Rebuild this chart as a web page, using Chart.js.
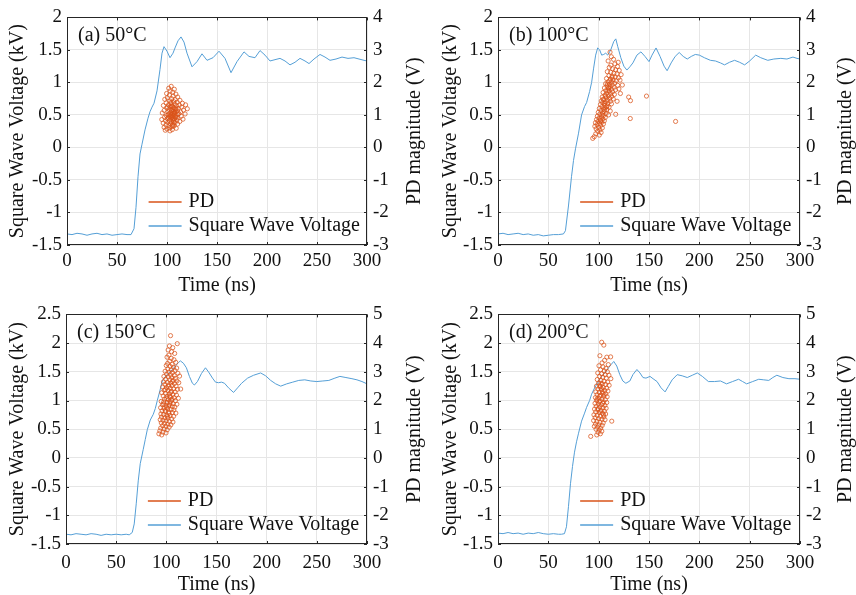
<!DOCTYPE html>
<html>
<head>
<meta charset="utf-8">
<script src="https://cdn.jsdelivr.net/npm/chart.js@4.4.1/dist/chart.umd.min.js"></script>
<style>
  body { margin: 0; background: #fff; }
  #wrap { position: relative; width: 856px; height: 595px; }
  canvas { position: absolute; }
</style>
</head>
<body>
<div id="wrap">
  <canvas id="chartA" width="428" height="297" style="left:0;top:0;width:428px;height:297px"></canvas>
  <canvas id="chartB" width="428" height="297" style="left:428px;top:0;width:428px;height:297px"></canvas>
  <canvas id="chartC" width="428" height="298" style="left:0;top:297px;width:428px;height:298px"></canvas>
  <canvas id="chartD" width="428" height="298" style="left:428px;top:297px;width:428px;height:298px"></canvas>
</div>
<script>
// ---- square wave voltage (kV) vs time (ns) ----
const tA = [0,5,10,15,20,25,30,35,40,45,50,55,60,64,67,69,71,73,75,78,81,83,85,87,90,93,95,97,100,103,106,108,111,114,117,120,125,130,135,140,146,152,158,164,170,177,182,188,193,198,203,208,213,218,223,228,233,238,242,247,253,258,263,269,275,281,287,292,297,300];
const vA = [-1.33,-1.34,-1.32,-1.33,-1.35,-1.33,-1.32,-1.34,-1.33,-1.35,-1.34,-1.33,-1.34,-1.34,-1.25,-0.92,-0.45,-0.10,0.05,0.27,0.45,0.55,0.62,0.68,0.87,1.20,1.45,1.55,1.48,1.38,1.45,1.53,1.64,1.70,1.62,1.45,1.24,1.32,1.44,1.34,1.38,1.48,1.37,1.15,1.32,1.47,1.40,1.38,1.49,1.42,1.33,1.35,1.37,1.33,1.27,1.31,1.37,1.33,1.29,1.36,1.43,1.39,1.34,1.36,1.39,1.37,1.38,1.36,1.34,1.33];

const tB = [0,5,10,15,20,25,30,35,40,45,50,55,60,65,67,70,73,75,77,80,83,86,88,91,93,95,97,99,101,103,105,107,109,112,115,117,119,122,125,128,131,134,138,142,146,150,153,157,161,165,168,172,176,180,184,188,192,196,200,205,211,216,221,225,230,235,240,245,250,256,261,268,274,281,287,293,297,300];
const vB = [-1.33,-1.32,-1.34,-1.33,-1.32,-1.34,-1.33,-1.35,-1.34,-1.36,-1.35,-1.34,-1.34,-1.33,-1.28,-0.90,-0.45,-0.20,-0.02,0.22,0.50,0.63,0.69,0.86,1.00,1.22,1.42,1.53,1.50,1.42,1.43,1.45,1.42,1.50,1.63,1.67,1.55,1.38,1.25,1.19,1.24,1.30,1.42,1.47,1.40,1.32,1.42,1.53,1.40,1.25,1.18,1.30,1.40,1.46,1.40,1.36,1.40,1.43,1.42,1.38,1.34,1.33,1.30,1.27,1.31,1.34,1.31,1.27,1.33,1.42,1.38,1.34,1.36,1.37,1.36,1.39,1.37,1.36];

const tC = [0,5,10,15,20,25,30,35,40,45,50,55,60,63,66,68,70,72,74,77,79,81,84,87,89,91,93,96,98,101,104,106,109,112,114,117,120,123,126,128,131,135,139,142,146,149,152,155,158,162,167,171,175,181,187,194,199,204,209,214,220,226,232,238,244,250,256,262,268,273,279,285,290,295,300];
const vC = [-1.33,-1.34,-1.32,-1.33,-1.34,-1.32,-1.33,-1.35,-1.33,-1.34,-1.33,-1.34,-1.33,-1.34,-1.30,-1.15,-0.80,-0.40,-0.10,0.15,0.32,0.49,0.66,0.76,0.86,1.00,1.13,1.34,1.40,1.45,1.50,1.54,1.60,1.66,1.69,1.65,1.57,1.42,1.30,1.27,1.33,1.47,1.57,1.50,1.39,1.32,1.31,1.32,1.30,1.22,1.14,1.22,1.30,1.39,1.44,1.48,1.43,1.35,1.29,1.25,1.29,1.32,1.35,1.36,1.34,1.33,1.34,1.35,1.39,1.42,1.40,1.38,1.36,1.33,1.29];

const tD = [0,5,10,15,20,25,30,35,40,45,50,55,60,63,66,68,70,72,74,76,78,80,83,86,88,91,93,96,100,103,106,109,112,115,118,121,124,127,131,134,138,141,144,147,151,154,158,162,166,169,173,178,183,188,193,198,203,209,215,221,227,233,239,243,247,253,259,264,269,273,277,283,289,295,300];
const vD = [-1.31,-1.32,-1.30,-1.32,-1.31,-1.33,-1.31,-1.32,-1.30,-1.32,-1.33,-1.32,-1.33,-1.33,-1.32,-1.20,-0.85,-0.45,-0.15,0.10,0.28,0.43,0.64,0.78,0.88,1.00,1.11,1.22,1.34,1.42,1.48,1.55,1.62,1.68,1.60,1.45,1.34,1.30,1.34,1.45,1.54,1.48,1.40,1.39,1.42,1.38,1.33,1.22,1.15,1.24,1.36,1.45,1.43,1.40,1.44,1.48,1.42,1.33,1.33,1.34,1.29,1.33,1.37,1.33,1.29,1.33,1.37,1.36,1.35,1.40,1.44,1.40,1.38,1.38,1.37];

// ---- PD events, [time ns, magnitude V] ----
const pdA = [
  [104.2,1.88],[101.7,1.82],[107.3,1.79],[103.1,1.74],[105.8,1.70],[99.6,1.66],[108.9,1.64],[102.4,1.61],[106.1,1.58],[110.7,1.55],[100.3,1.53],[104.6,1.50],[97.8,1.48],[108.2,1.47],[112.9,1.45],[102.9,1.43],[106.7,1.41],[110.1,1.39],[99.1,1.37],[115.4,1.36],
  [104.0,1.35],[107.9,1.33],[101.5,1.31],[112.3,1.30],[118.6,1.31],[96.4,1.29],[109.6,1.28],[105.2,1.27],[103.3,1.25],[114.7,1.24],[107.1,1.23],[99.8,1.21],[111.2,1.20],[120.3,1.19],[105.9,1.18],[102.1,1.17],[108.6,1.16],[116.5,1.15],[97.2,1.14],[104.8,1.13],
  [110.4,1.12],[106.3,1.11],[100.9,1.10],[113.6,1.09],[108.0,1.08],[103.7,1.07],[95.3,1.06],[105.5,1.05],[111.8,1.04],[118.1,1.03],[107.4,1.02],[101.2,1.01],[104.3,1.00],[109.3,0.99],[99.4,0.98],[106.8,0.97],[114.2,0.96],[102.7,0.95],[108.4,0.94],[97.6,0.93],
  [105.0,0.92],[111.0,0.91],[103.9,0.90],[100.2,0.89],[107.6,0.88],[116.0,0.87],[94.8,0.86],[105.7,0.85],[109.9,0.84],[102.3,0.83],[98.7,0.82],[106.5,0.81],[112.8,0.80],[104.1,0.79],[100.8,0.77],[108.1,0.76],[96.2,0.75],[103.4,0.73],[110.6,0.72],[106.0,0.71],
  [99.0,0.69],[101.9,0.67],[107.0,0.66],[104.9,0.64],[97.1,0.62],[102.6,0.60],[109.2,0.59],[100.0,0.57],[105.3,0.55],[98.3,0.53],[103.0,0.51],[106.2,1.22],[104.5,1.15],[107.7,1.10],[103.6,0.98],[106.9,1.05],[105.4,0.95],[108.8,1.19],[102.0,1.03],[106.4,0.88],
  [109.1,0.93],[104.7,1.28],[101.3,0.92],[110.9,1.02],[107.2,0.78],[103.8,1.38],[105.6,0.68],[100.6,1.24]
];
const pdB = [
  [111.3,2.93],[112.6,2.79],[109.4,2.66],[114.8,2.71],[116.2,2.57],[112.1,2.53],[118.7,2.49],[110.5,2.46],[113.9,2.42],[116.8,2.39],[120.4,2.37],[108.6,2.33],[112.0,2.31],[115.1,2.28],[118.2,2.26],[122.3,2.24],[110.2,2.21],[113.4,2.19],[116.5,2.17],[119.6,2.14],
  [107.8,2.12],[111.7,2.10],[114.3,2.08],[117.4,2.05],[121.2,2.07],[109.5,2.02],[112.8,2.00],[115.9,1.98],[106.9,1.96],[110.8,1.94],[113.6,1.92],[118.9,1.91],[108.3,1.89],[111.4,1.87],[115.3,1.85],[105.7,1.83],[109.9,1.81],[112.5,1.79],[116.7,1.77],[120.1,1.80],
  [107.2,1.75],[110.6,1.73],[113.8,1.71],[104.4,1.69],[108.1,1.67],[111.9,1.65],[115.6,1.63],[106.3,1.61],[109.7,1.59],[112.9,1.57],[103.5,1.55],[107.6,1.53],[110.9,1.51],[114.5,1.49],[105.1,1.47],[108.8,1.45],[102.6,1.43],[111.6,1.42],[106.7,1.40],[104.0,1.38],
  [109.1,1.36],[112.7,1.34],[101.8,1.32],[105.8,1.30],[108.4,1.28],[103.2,1.26],[110.3,1.24],[106.1,1.22],[100.7,1.20],[104.6,1.18],[108.0,1.16],[102.3,1.14],[111.5,1.12],[105.4,1.10],[99.6,1.08],[103.9,1.06],[107.3,1.04],[101.1,1.02],[109.8,1.00],[104.8,0.98],
  [98.7,0.96],[102.8,0.94],[106.5,0.92],[100.4,0.90],[104.2,0.88],[97.9,0.86],[101.6,0.84],[105.6,0.82],[99.3,0.80],[103.1,0.78],[96.8,0.76],[100.9,0.74],[104.7,0.72],[98.4,0.70],[102.1,0.68],[96.2,0.65],[100.0,0.62],[103.6,0.60],[97.5,0.57],[101.3,0.54],
  [99.0,0.50],[102.4,0.46],[97.1,0.42],[100.6,0.38],[95.6,0.33],[94.1,0.28],[108.5,1.95],[111.1,2.05],[109.3,1.75],[107.0,1.58],[105.9,1.35],[104.3,1.48],[113.2,2.15],[110.0,1.84],[106.0,1.15],[103.4,1.00],[102.0,0.82],[107.9,1.25],
  [129.8,1.55],[131.6,1.44],[147.5,1.58],[131.4,0.89],[176.4,0.80],[121.6,1.66],[118.3,1.42],[116.9,1.02],[123.5,1.92],[119.4,2.62]
];
const pdC = [
  [104.2,4.26],[110.9,3.98],[103.1,3.90],[106.4,3.84],[101.8,3.76],[105.2,3.70],[108.3,3.64],[102.6,3.58],[100.7,3.51],[104.9,3.47],[107.6,3.42],[103.3,3.37],[109.4,3.33],[101.2,3.29],[105.8,3.26],
  [99.9,3.22],[103.7,3.19],[107.1,3.16],[110.3,3.13],[101.5,3.10],[105.0,3.07],[108.6,3.04],[98.8,3.02],[102.7,2.99],[106.2,2.97],[111.5,2.95],[100.3,2.92],[104.4,2.89],[107.9,2.87],[97.6,2.84],[102.0,2.82],[105.5,2.80],[109.1,2.77],[113.2,2.85],[99.4,2.74],
  [103.5,2.72],[106.8,2.70],[110.6,2.68],[97.1,2.65],[101.0,2.63],[104.6,2.61],[108.0,2.59],[112.4,2.62],[98.6,2.56],[102.3,2.54],[105.7,2.52],[109.7,2.50],[96.4,2.47],[100.1,2.45],[103.9,2.43],[107.3,2.41],[111.0,2.39],[114.3,2.40],[97.9,2.36],[101.7,2.34],
  [105.1,2.32],[108.8,2.30],[95.5,2.27],[99.2,2.25],[102.9,2.23],[106.5,2.21],[110.1,2.19],[96.9,2.16],[100.6,2.14],[104.1,2.12],[107.7,2.10],[112.0,2.08],[98.3,2.05],[101.9,2.03],[105.4,2.01],[109.0,1.99],[94.9,1.97],[97.4,1.95],[100.8,1.93],[103.6,1.91],
  [106.9,1.89],[110.5,1.87],[96.1,1.85],[99.6,1.83],[102.4,1.81],[105.9,1.79],[108.4,1.77],[94.3,1.75],[97.7,1.73],[101.3,1.71],[104.7,1.69],[107.5,1.67],[95.8,1.64],[99.0,1.62],[102.5,1.60],[106.0,1.58],[109.5,1.56],[94.6,1.53],[97.2,1.51],[100.5,1.49],
  [103.8,1.47],[107.2,1.45],[95.2,1.42],[98.5,1.40],[101.6,1.38],[105.3,1.36],[93.9,1.33],[96.7,1.31],[99.8,1.29],[103.0,1.27],[106.6,1.25],[95.0,1.22],[98.1,1.20],[101.4,1.18],[104.5,1.15],[96.3,1.12],[99.5,1.10],[102.8,1.07],[94.4,1.04],[97.8,1.01],
  [100.9,0.98],[93.5,0.94],[96.6,0.90],[99.7,0.87],[92.6,0.84],[95.4,0.80],[102.2,2.49],[104.3,2.28],[100.4,2.07],[103.2,1.85],[98.9,1.66],[101.1,1.44],[104.0,1.96],[99.1,2.38],[106.1,2.66],[102.6,1.55],[100.2,1.76],[97.3,1.88],[103.4,2.15],[105.6,2.05]
];
const pdD = [
  [103.0,4.03],[105.1,3.93],[101.2,3.56],[108.1,3.51],[111.9,3.52],[105.9,3.40],[103.4,3.31],[109.6,3.25],[100.3,3.21],[104.3,3.17],[107.2,3.12],[101.9,3.07],[105.5,3.03],[108.7,3.00],[99.1,2.96],[103.0,2.93],[106.4,2.90],[110.2,2.88],[100.8,2.84],[104.1,2.81],
  [107.5,2.78],[112.1,2.76],[98.6,2.73],[102.2,2.70],[105.3,2.67],[108.9,2.64],[100.0,2.61],[103.6,2.58],[106.8,2.56],[110.4,2.53],[97.8,2.50],[101.4,2.48],[104.6,2.45],[107.9,2.43],[99.3,2.40],[102.8,2.37],[105.9,2.35],[109.2,2.33],[97.2,2.30],[100.7,2.28],
  [103.9,2.25],[107.1,2.23],[98.5,2.20],[101.9,2.18],[105.0,2.15],[108.4,2.13],[96.8,2.10],[100.2,2.08],[103.3,2.05],[106.6,2.03],[98.0,2.00],[101.5,1.98],[104.8,1.95],[108.0,1.93],[96.4,1.90],[99.8,1.88],[102.9,1.85],[106.1,1.83],[97.6,1.80],[101.0,1.78],
  [104.3,1.75],[107.4,1.73],[95.9,1.70],[99.2,1.68],[102.5,1.65],[105.7,1.63],[97.0,1.60],[100.5,1.58],[103.8,1.55],[106.9,1.53],[95.3,1.50],[98.6,1.48],[101.8,1.45],[105.1,1.43],[96.6,1.40],[99.9,1.37],[103.2,1.35],[106.3,1.33],[113.0,1.28],[95.0,1.30],
  [98.2,1.27],[101.3,1.24],[104.5,1.22],[96.9,1.18],[100.1,1.15],[103.5,1.13],[95.7,1.10],[98.9,1.07],[102.0,1.04],[97.4,1.00],[100.6,0.97],[103.1,0.93],[99.4,0.89],[101.7,0.84],[98.1,0.80],[92.1,0.75],
  [102.6,2.42],[100.9,2.15],[104.0,1.90],[99.5,1.72],[102.3,2.60],[100.4,1.96],[103.7,2.30],[101.6,1.62],[105.4,2.20],[98.4,2.05],[104.9,1.50],[101.1,2.52]
];

const FONT = "'Liberation Serif', 'Times New Roman', serif";
const PD_COLOR = "#d95319";
const SW_COLOR = "#559fd6";
const TXT = "#111";

// box, inward ticks, right-hand title, panel tag and the legend
const panelDecor = {
  id: "panelDecor",
  afterDraw(chart, args, opts) {
    const { ctx, chartArea: a, scales } = chart;
    ctx.save();
    ctx.strokeStyle = "#262626";
    ctx.lineWidth = 1;
    ctx.beginPath();
    scales.x.ticks.forEach(tk => {
      const px = Math.round(scales.x.getPixelForValue(tk.value)) + 0.5;
      ctx.moveTo(px, a.bottom); ctx.lineTo(px, a.bottom - 3);
      ctx.moveTo(px, a.top); ctx.lineTo(px, a.top + 3);
    });
    scales.y.ticks.forEach(tk => {
      const py = Math.round(scales.y.getPixelForValue(tk.value)) + 0.5;
      ctx.moveTo(a.left, py); ctx.lineTo(a.left + 3, py);
    });
    scales.y1.ticks.forEach(tk => {
      const py = Math.round(scales.y1.getPixelForValue(tk.value)) + 0.5;
      ctx.moveTo(a.right, py); ctx.lineTo(a.right - 3, py);
    });
    ctx.stroke();
    ctx.strokeRect(Math.round(a.left) + 0.5, Math.round(a.top) + 0.5, Math.round(a.width) - 1, Math.round(a.height) - 1);

    ctx.fillStyle = TXT;
    ctx.font = "20px " + FONT;
    ctx.textBaseline = "middle";
    ctx.textAlign = "center";
    // right axis title reads bottom to top, like the left one
    ctx.save();
    ctx.translate(a.right + opts.rightTitleGap, (a.top + a.bottom) / 2);
    ctx.rotate(-Math.PI / 2);
    ctx.fillText("PD magnitude (V)", 0, 0);
    ctx.restore();

    ctx.textAlign = "left";
    ctx.fillText(opts.tag, a.left + 11, a.top + 18);

    const lx = a.left + a.width * 0.272;
    const rows = [["PD", PD_COLOR, a.bottom - 43], ["Square Wave Voltage", SW_COLOR, a.bottom - 19]];
    rows.forEach(([txt, col, y]) => {
      ctx.strokeStyle = col;
      ctx.lineWidth = 1.3;
      ctx.beginPath();
      ctx.moveTo(lx, y); ctx.lineTo(lx + 33, y);
      ctx.stroke();
      ctx.fillStyle = TXT;
      ctx.fillText(txt, lx + 40, y);
    });
    ctx.restore();
  }
};

function makePanel(p) {
  const tickFmt = v => String(Math.round(v * 100) / 100);
  return new Chart(document.getElementById(p.id), {
    data: {
      datasets: [
        {
          type: "scatter",
          label: "PD",
          yAxisID: "y1",
          data: p.pd.map(q => ({ x: q[0], y: q[1] })),
          pointRadius: 2.1,
          pointBorderWidth: 0.75,
          pointBackgroundColor: "rgba(0,0,0,0)",
          pointBorderColor: PD_COLOR
        },
        {
          type: "line",
          label: "Square Wave Voltage",
          yAxisID: "y",
          data: p.t.map((t, i) => ({ x: t, y: p.v[i] })),
          borderColor: SW_COLOR,
          borderWidth: 1,
          pointRadius: 0,
          tension: 0
        }
      ]
    },
    options: {
      responsive: false,
      animation: false,
      events: [],
      layout: { padding: { top: p.top, left: 0, right: 0, bottom: 0 } },
      plugins: {
        legend: { display: false },
        tooltip: { enabled: false },
        panelDecor: { tag: p.tag, rightTitleGap: p.rightTitleGap }
      },
      scales: {
        x: {
          type: "linear",
          min: 0, max: 300,
          afterFit: s => { s.height = p.bottomH; },
          ticks: { stepSize: 50, autoSkip: false, maxRotation: 0, padding: p.xTickPad, color: TXT, font: { family: FONT, size: 19 } },
          grid: { color: "#e6e6e6", drawTicks: false },
          border: { display: false },
          title: { display: true, text: "Time (ns)", color: TXT, font: { family: FONT, size: 20, lineHeight: 1 }, padding: { top: 0, bottom: p.xTitlePad } }
        },
        y: {
          position: "left",
          min: -1.5, max: p.vMax,
          afterFit: s => { s.width = p.leftW; },
          ticks: { stepSize: 0.5, autoSkip: false, padding: 5, color: TXT, font: { family: FONT, size: 19 }, callback: tickFmt },
          grid: { color: "#e6e6e6", drawTicks: false },
          border: { display: false },
          title: { display: true, text: "Square Wave Voltage (kV)", color: TXT, font: { family: FONT, size: 20, lineHeight: 1 }, padding: { top: p.leftTitlePad, bottom: 0 } }
        },
        y1: {
          position: "right",
          min: -3, max: p.pdMax,
          afterFit: s => { s.width = p.rightW; },
          ticks: { stepSize: 1, autoSkip: false, padding: 6, color: TXT, font: { family: FONT, size: 19 }, callback: tickFmt },
          grid: { display: false, drawTicks: false },
          border: { display: false },
          title: { display: false }
        }
      }
    },
    plugins: [panelDecor]
  });
}

makePanel({ id: "chartA", tag: "(a) 50\u00B0C", t: tA, v: vA, pd: pdA, vMax: 2, pdMax: 4,
  leftW: 67, rightW: 61, top: 11, bottomH: 52, xTickPad: 5, xTitlePad: 1, leftTitlePad: 8, rightTitleGap: 48 });
makePanel({ id: "chartB", tag: "(b) 100\u00B0C", t: tB, v: vB, pd: pdB, vMax: 2, pdMax: 4,
  leftW: 70, rightW: 56, top: 11, bottomH: 52, xTickPad: 5, xTitlePad: 1, leftTitlePad: 13, rightTitleGap: 46 });
makePanel({ id: "chartC", tag: "(c) 150\u00B0C", t: tC, v: vC, pd: pdC, vMax: 2.5, pdMax: 5,
  leftW: 66, rightW: 61, top: 11, bottomH: 51, xTickPad: 8, xTitlePad: 0, leftTitlePad: 8, rightTitleGap: 48 });
makePanel({ id: "chartD", tag: "(d) 200\u00B0C", t: tD, v: vD, pd: pdD, vMax: 2.5, pdMax: 5,
  leftW: 70, rightW: 56, top: 11, bottomH: 51, xTickPad: 8, xTitlePad: 0, leftTitlePad: 13, rightTitleGap: 46 });
</script>
</body>
</html>
